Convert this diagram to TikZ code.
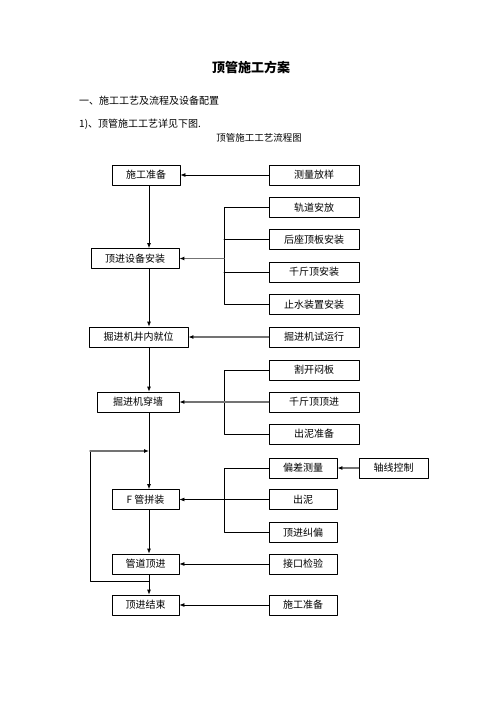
\documentclass[tikz,border=0pt]{standalone}
\usepackage{fontspec}
\newfontfamily\cjk{Noto Sans CJK SC}
\usetikzlibrary{arrows.meta}
\begin{document}
\begin{tikzpicture}[x=1pt,y=-1pt,line cap=round,line join=round,>={Latex[length=5pt,width=4pt,black]},
	box/.style={draw,line width=0.8pt,minimum height=20pt,inner sep=0pt,font=\cjk\fontsize{10}{12}\selectfont},
	txt/.style={inner sep=0pt,font=\cjk\fontsize{10}{12}\selectfont},
	thin/.style={line width=0.8pt},
	grey/.style={line width=1.5pt,draw=black!55}]
	\useasboundingbox (0,0) rectangle (496,702);
	% heading
	\node[txt,font=\cjk\bfseries\fontsize{13}{15}\selectfont] (title) at (251,67) {顶管施工方案};
	\node[txt,anchor=west] (sec) at (79,101) {一、施工工艺及流程及设备配置};
	\node[txt,anchor=west] (sub) at (79,124) {1)、顶管施工工艺详见下图.};
	\node[txt,font=\cjk\fontsize{9.5}{12}\selectfont] (cap) at (259,138) {顶管施工工艺流程图};
	% left column
	\node[box,minimum width=68pt] (sg) at (146,175) {施工准备};
	\node[box,minimum width=88pt] (sb) at (135,258.5) {顶进设备安装};
	\node[box,minimum width=99pt] (jw) at (138.5,337) {掘进机井内就位};
	\node[box,minimum width=82pt] (cq) at (138,402) {掘进机穿墙};
	\node[box,minimum width=67pt] (pz) at (145.5,499.5) {F 管拼装};
	\node[box,minimum width=67pt] (gd) at (145.5,564) {管道顶进};
	\node[box,minimum width=67pt] (js) at (145.5,605) {顶进结束};
	% right column
	\node[box,minimum width=90pt] (cl) at (314,175) {测量放样};
	\node[box,minimum width=90pt] (ga) at (314,207.5) {轨道安放};
	\node[box,minimum width=90pt] (hz) at (314,239.5) {后座顶板安装};
	\node[box,minimum width=90pt] (qa) at (314,272) {千斤顶安装};
	\node[box,minimum width=90pt] (zs) at (314,304.5) {止水装置安装};
	\node[box,minimum width=90pt] (sy) at (314,337) {掘进机试运行};
	\node[box,minimum width=90pt] (gk) at (314,370) {割开闷板};
	\node[box,minimum width=90pt] (qd) at (314,402) {千斤顶顶进};
	\node[box,minimum width=90pt] (cn) at (314,434) {出泥准备};
	\node[box,minimum width=68pt] (pc) at (303,468) {偏差测量};
	\node[box,minimum width=69pt] (zx) at (393.5,468) {轴线控制};
	\node[box,minimum width=68pt] (cb) at (303,499.5) {出泥};
	\node[box,minimum width=68pt] (jp) at (303,532.5) {顶进纠偏};
	\node[box,minimum width=68pt] (jy) at (303,564) {接口检验};
	\node[box,minimum width=68pt] (sg2) at (303,605) {施工准备};
	% helper coordinates
	\coordinate (trunk) at (149,0);
	\coordinate (brk) at (224,0);
	\coordinate (lp1) at (149,581);
	\coordinate (lp2) at (90,581);
	\coordinate (lp3) at (90,451);
	\coordinate (lp4) at (149,451);
	% main line
	\draw[thin,->] (sg.south -| trunk) -- (sb.north -| trunk);
	\draw[thin,->] (sb.south -| trunk) -- (jw.north -| trunk);
	\draw[thin,->] (jw.south -| trunk) -- (cq.north -| trunk);
	\draw[thin,->] (cq.south -| trunk) -- (pz.north -| trunk);
	\draw[thin,->] (pz.south -| trunk) -- (gd.north -| trunk);
	\draw[thin,->] (gd.south -| trunk) -- (js.north -| trunk);
	% loop back
	\draw[thin] (lp1) -- (lp2) -- (lp3);
	\draw[grey,->] (lp3) -- (lp4);
	% side inputs
	\draw[thin,->] (cl.west) -- (sg.east);
	\draw[thin] (ga.west) -- (ga.west -| brk) -- (zs.west -| brk) -- (zs.west);
	\draw[thin] (hz.west) -- (hz.west -| brk);
	\draw[thin] (qa.west) -- (qa.west -| brk);
	\draw[grey,->] (sb.east -| brk) -- (sb.east);
	\draw[grey,->] (sy.west) -- (jw.east);
	\draw[thin] (gk.west) -- (gk.west -| brk) -- (cn.west -| brk) -- (cn.west);
	\draw[grey,->] (qd.west) -- (cq.east);
	\draw[thin] (pc.west) -- (pc.west -| brk) -- (jp.west -| brk) -- (jp.west);
	\draw[thin,->] (cb.west) -- (pz.east);
	\draw[grey,->] (zx.west) -- (pc.east);
	\draw[thin,->] (jy.west) -- (gd.east);
	\draw[thin,->] (sg2.west) -- (js.east);
\end{tikzpicture}
\end{document}
